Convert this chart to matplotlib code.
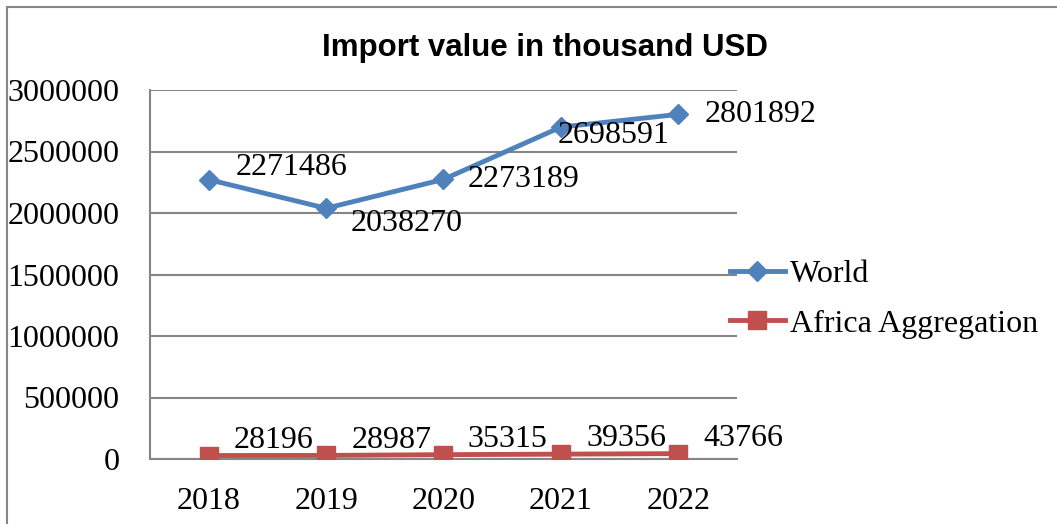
import matplotlib
matplotlib.use("Agg")
import matplotlib.pyplot as plt
from matplotlib.lines import Line2D

years = ["2018", "2019", "2020", "2021", "2022"]
world = [2271486, 2038270, 2273189, 2698591, 2801892]
africa = [28196, 28987, 35315, 39356, 43766]
yticks = [0, 500000, 1000000, 1500000, 2000000, 2500000, 3000000]
title = "Import value in thousand USD"
series_names = ["World", "Africa Aggregation"]

# label offsets in points (styling)
world_off = [(60, 9), (58, -11), (58, 0), (38, -6), (59, 0)]
africa_off = [(47, 11), (47, 11), (46, 11), (47, 11), (47, 11)]

W, H = 1057, 524
fig = plt.figure(figsize=(W / 100, H / 100), dpi=100)
serif = ["Liberation Serif", "DejaVu Serif"]
FS = 23

# outer border
fig.add_artist(Line2D([7 / W, 7 / W], [0, 1 - 7 / H], color="#868686", lw=1.5, transform=fig.transFigure))
fig.add_artist(Line2D([7 / W, 1], [1 - 7 / H, 1 - 7 / H], color="#868686", lw=1.5, transform=fig.transFigure))

ax = fig.add_axes([150 / W, 1 - 459 / H, (737 - 150) / W, (459 - 90) / H])
x = list(range(len(years)))
ax.plot(x, world, color="#4F81BD", lw=3.5, marker="D", ms=10, mec="#4F81BD", label=series_names[0], zorder=3)
ax.plot(x, africa, color="#C0504D", lw=3.5, marker="s", ms=13, mec="#C0504D", label=series_names[1], zorder=3)

ax.set_xlim(-0.5, len(years) - 0.5)
ax.set_ylim(0, 3000000)
ax.set_yticks(yticks)
ax.set_yticklabels([str(v) for v in yticks], fontfamily=serif, fontsize=FS)
ax.set_xticks(x)
ax.set_xticklabels(years, fontfamily=serif, fontsize=FS)
ax.tick_params(axis="both", length=0)
ax.tick_params(axis="x", pad=20)
ax.tick_params(axis="y", pad=22)
ax.yaxis.grid(True, color="#868686", lw=1.5)
ax.set_axisbelow(True)
for s in ["top", "right"]:
    ax.spines[s].set_visible(False)
for s in ["left", "bottom"]:
    ax.spines[s].set_color("#868686")
    ax.spines[s].set_linewidth(1.5)

for i, v in enumerate(world):
    ax.annotate(str(v), (i, v), xytext=world_off[i], textcoords="offset points",
                ha="center", va="center", fontfamily=serif, fontsize=FS, zorder=4)
for i, v in enumerate(africa):
    ax.annotate(str(v), (i, v), xytext=africa_off[i], textcoords="offset points",
                ha="center", va="center", fontfamily=serif, fontsize=FS, zorder=4)

fig.text(545 / W, 1 - 56 / H, title, ha="center", va="baseline", fontsize=22.5,
         fontweight="bold", fontfamily=["Liberation Sans", "DejaVu Sans"])

ax.legend(loc="upper left", bbox_to_anchor=(730 / W, 1 - 260 / H), bbox_transform=fig.transFigure,
          frameon=False, prop={"family": serif, "size": FS}, handlelength=1.72, handletextpad=0.15,
          labelspacing=0.62, borderaxespad=0, borderpad=0)

fig.savefig("out.png", dpi=100)
